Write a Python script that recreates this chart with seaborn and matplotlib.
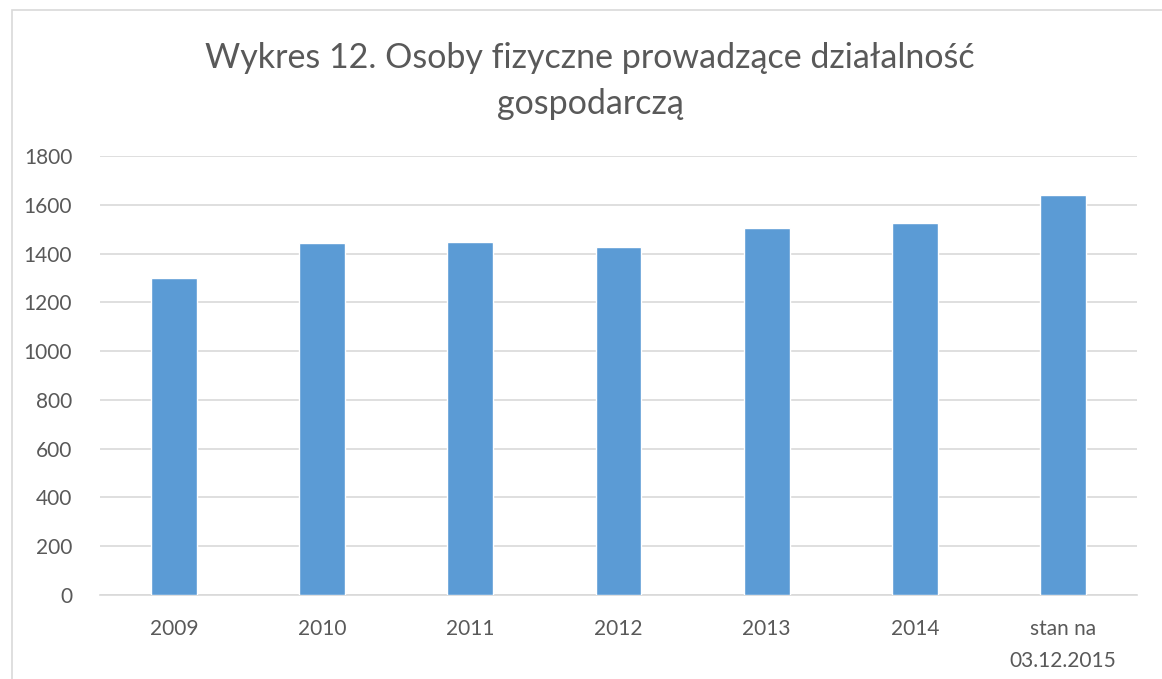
import matplotlib
matplotlib.use("Agg")
import matplotlib.pyplot as plt
import seaborn as sns
import pandas as pd
from matplotlib.patches import Rectangle

categories = ["2009", "2010", "2011", "2012", "2013", "2014", "stan na\n03.12.2015"]
values = [1300, 1443, 1446, 1425, 1504, 1524, 1640]
yticks = [0, 200, 400, 600, 800, 1000, 1200, 1400, 1600, 1800]
title = "Wykres 12. Osoby fizyczne prowadzące działalność\ngospodarczą"

sns.set_theme(style="white")
plt.rcParams['font.family'] = ['Lato', 'DejaVu Sans']

df = pd.DataFrame({"cat": categories, "val": values})

fig = plt.figure(figsize=(11.62, 6.79), dpi=100)
ax = fig.add_axes([100/1162, 1-595/679, (1137-100)/1162, (595-156)/679])

sns.barplot(data=df, x="cat", y="val", color="#5b9bd5", width=0.31,
            saturation=1, ax=ax, zorder=3)

ax.set_ylim(0, 1800)
ax.set_yticks(yticks)
ax.set_xlim(-0.5, len(categories)-0.5)
ax.grid(axis="y", color="#d9d9d9", linewidth=1.2, zorder=0)
ax.grid(axis="x", visible=False)
for s in ["top", "right", "left"]:
    ax.spines[s].set_visible(False)
ax.spines["bottom"].set_color("#d9d9d9")
ax.spines["bottom"].set_linewidth(1.2)
ax.tick_params(axis="both", length=0, labelsize=15, colors="#595959")
ax.tick_params(axis="y", pad=20)
ax.tick_params(axis="x", pad=17)
ax.set_xlabel("")
ax.set_ylabel("")
for lbl in ax.get_xticklabels():
    lbl.set_linespacing(1.75)

fig.text(0.508, 1-81/679, title, ha="center", va="center", fontsize=24.5,
         color="#595959", linespacing=1.5)

fig.patches.append(Rectangle((12/1162, -0.1), 1.2, 1-10/679+0.1,
                             transform=fig.transFigure, fill=False,
                             edgecolor="#d9d9d9", linewidth=1.2))

fig.savefig("out.png", dpi=100)
